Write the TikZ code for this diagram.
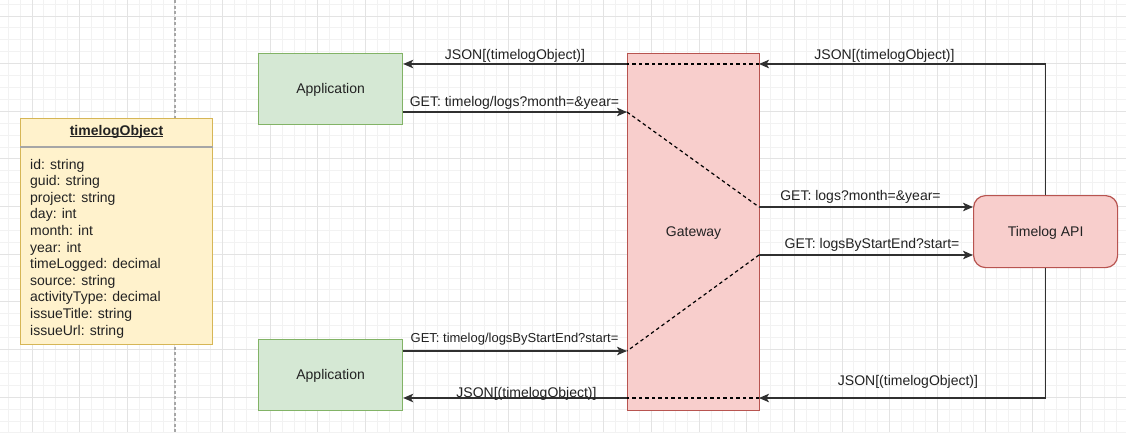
\documentclass[tikz,border=0pt]{standalone}
\usepackage{fontspec}
\setmainfont{Liberation Sans}
\usetikzlibrary{arrows.meta}

\definecolor{appfill}{HTML}{D5E8D4}
\definecolor{appline}{HTML}{82B366}
\definecolor{gwfill}{HTML}{F8CECC}
\definecolor{gwline}{HTML}{B85450}
\definecolor{objfill}{HTML}{FFF2CC}
\definecolor{objline}{HTML}{D6B656}
\definecolor{wire}{HTML}{303030}
\definecolor{ink}{HTML}{222222}
\definecolor{gridminor}{HTML}{F2F2F2}
\definecolor{gridmajor}{HTML}{E3E3E3}
\definecolor{divider}{HTML}{A6A6A6}

\begin{document}
\begin{tikzpicture}[x=1pt, y=-1pt,
  every node/.style={font=\fontsize{14}{16}\selectfont, text=ink},
  box/.style={draw, line width=1.2pt, inner sep=0pt, text depth=0pt},
  appbox/.style={box, fill=appfill, draw=appline, minimum width=144pt, minimum height=71pt},
  gwbox/.style={box, fill=gwfill, draw=gwline, minimum width=132pt, minimum height=357pt},
  apibox/.style={box, fill=gwfill, draw=gwline, rounded corners=12pt, minimum width=144pt, minimum height=72pt},
  objbox/.style={box, fill=objfill, draw=objline, minimum width=192pt, minimum height=226pt},
  flow/.style={draw=wire, line width=1.4pt, -{Stealth[length=10pt,width=8.5pt,inset=2.5pt]}},
  insidewire/.style={draw=black, line width=1.2pt, dash pattern=on 3.5pt off 3pt},
  lbl/.style={anchor=base, inner sep=0pt},
  attr/.style={anchor=base west, inner sep=0pt},
]
\useasboundingbox (0,0) rectangle (1126,432);
\fill[white] (0,0) rectangle (1126,432);

% background grid
\foreach \k in {-2,...,92}
  \draw[gridminor, line width=1pt] ({32+11.9125*\k},0) -- ({32+11.9125*\k},432);
\foreach \k in {-1,...,35}
  \draw[gridminor, line width=1pt] (0,{16+11.9125*\k}) -- (1126,{16+11.9125*\k});
\foreach \k in {0,...,23}
  \draw[gridmajor, line width=1pt] ({32+47.65*\k},0) -- ({32+47.65*\k},432);
\foreach \k in {0,...,8}
  \draw[gridmajor, line width=1pt] (0,{16+47.65*\k}) -- (1126,{16+47.65*\k});

% separator between the data model and the services
\draw[gray!70, line width=1.3pt, dash pattern=on 3pt off 2.5pt] (175,0) -- (175,432);

% data model
\node[objbox, anchor=north west] (obj) at (20,118) {};
\draw[divider, line width=1.2pt] (obj.west |- 0,147) -- (obj.east |- 0,147);
\node[lbl, font=\fontsize{14}{16}\selectfont\bfseries] (objtitle) at (116.5,135) {timelogObject};
\draw[ink, line width=0.9pt] ([yshift=-1.5pt]objtitle.base west) -- ([yshift=-1.5pt]objtitle.base east);
\foreach \t [count=\i] in {id: string, guid: string, project: string, day: int, month: int, year: int,
    timeLogged: decimal, source: string, activityType: decimal, issueTitle: string, issueUrl: string}
  \node[attr] (attr\i) at (30,{169+16.6*(\i-1)}) {\t};

% services
\node[appbox, anchor=north west] (app1) at (258,52.5) {Application};
\node[appbox, anchor=north west] (app2) at (258,338.5) {Application};
\node[gwbox, anchor=north west] (gw) at (627,53) {Gateway};
\node[apibox, anchor=north west] (api) at (973,195) {Timelog API};

% routing points on the gateway edges
\coordinate (jt1) at (759,64);
\coordinate (jt0) at (627,64);
\coordinate (g1) at (627,112);
\coordinate (g2) at (759,207);
\coordinate (g3) at (759,255);
\coordinate (g4) at (627,351);
\coordinate (jb1) at (759,398);
\coordinate (jb0) at (627,398);

% routes through the gateway
\draw[insidewire] (jt1) -- (jt0);
\draw[insidewire] (g1) -- (g2);
\draw[insidewire] (g3) -- (g4);
\draw[insidewire] (jb1) -- (jb0);

% responses
\draw[flow] (api.north) |- (jt1);
\draw[flow] (jt0) -- (app1.east |- jt0);
\draw[flow] (api.south) |- (jb1);
\draw[flow] (jb0) -- (app2.east |- jb0);

% requests
\draw[flow] (app1.east |- g1) -- (g1);
\draw[flow] (g2) -- (api.west |- g2);
\draw[flow] (g3) -- (api.west |- g3);
\draw[flow] (app2.east |- g4) -- (g4);

% labels
\node[lbl] (l1) at (515,59.5) {JSON[(timelogObject)]};
\node[lbl] (l2) at (514.5,106) {GET: timelog/logs?month=\&year=};
\node[lbl] (l3) at (884.5,59.3) {JSON[(timelogObject)]};
\node[lbl] (l4) at (860.5,200.7) {GET: logs?month=\&year=};
\node[lbl] (l5) at (872,248.3) {GET: logsByStartEnd?start=};
\node[lbl, font=\fontsize{13}{15}\selectfont] (l6) at (514.5,342.7) {GET: timelog/logsByStartEnd?start=};
\node[lbl] (l7) at (526.5,397) {JSON[(timelogObject)]};
\node[lbl] (l8) at (908,385.7) {JSON[(timelogObject)]};
\end{tikzpicture}
\end{document}
